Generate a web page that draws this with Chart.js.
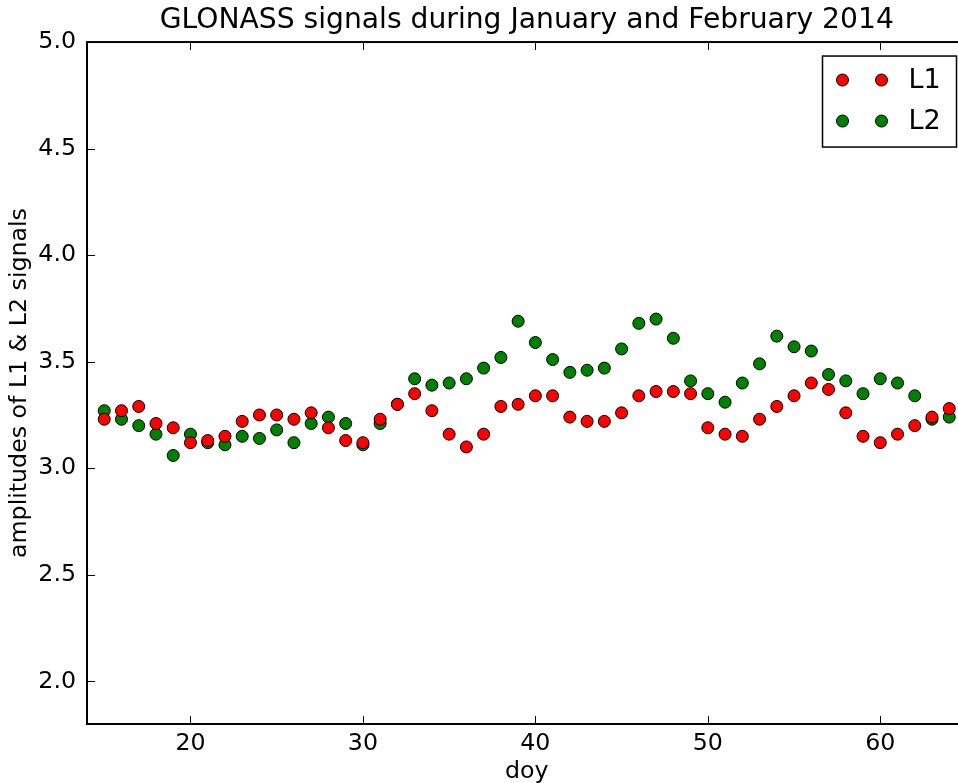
<!DOCTYPE html>
<html>
<head>
<meta charset="utf-8">
<script src="https://cdn.jsdelivr.net/npm/chart.js@4.4.1/dist/chart.umd.min.js"></script>
<style>
  html, body { margin: 0; padding: 0; background: #fff; overflow: hidden; }
  #wrap { width: 958px; height: 783px; overflow: hidden; position: relative; }
  canvas { display: block; }
</style>
</head>
<body>
<div id="wrap"><canvas id="c" width="1000" height="783"></canvas></div>
<script>
const TITLE = 'GLONASS signals during January and February 2014';
const X_LABEL = 'doy';
const Y_LABEL = 'amplitudes of L1 & L2 signals';
const SERIES_NAMES = ['L1', 'L2'];

const days = [15,16,17,18,19,20,21,22,23,24,25,26,27,28,29,30,31,32,33,34,35,36,37,38,39,40,
              41,42,43,44,45,46,47,48,49,50,51,52,53,54,55,56,57,58,59,60,61,62,63,64];

const l1 = [3.23,3.27,3.29,3.21,3.19,3.12,3.13,3.15,3.22,3.25,3.25,3.23,3.26,3.19,3.13,3.12,
            3.23,3.30,3.35,3.27,3.16,3.10,3.16,3.29,3.30,3.34,3.34,3.24,3.22,3.22,3.26,3.34,
            3.36,3.36,3.35,3.19,3.16,3.15,3.23,3.29,3.34,3.40,3.37,3.26,3.15,3.12,3.16,3.20,
            3.24,3.28];

const l2 = [3.27,3.23,3.20,3.16,3.06,3.16,3.12,3.11,3.15,3.14,3.18,3.12,3.21,3.24,3.21,3.11,
            3.21,3.30,3.42,3.39,3.40,3.42,3.47,3.52,3.69,3.59,3.51,3.45,3.46,3.47,3.56,3.68,
            3.70,3.61,3.41,3.35,3.31,3.40,3.49,3.62,3.57,3.55,3.44,3.41,3.35,3.42,3.40,3.34,
            3.23,3.24];

const xTicks = [20, 30, 40, 50, 60];
const yTicks = [2.0, 2.5, 3.0, 3.5, 4.0, 4.5, 5.0];
const xRange = [14, 65];
const yRange = [1.8, 5.0];

const FONT = 'DejaVu Sans';
const COLORS = ['#ff0000', '#008000'];

const toPts = (vals) => vals.map((v, i) => ({ x: days[i], y: v }));

const framePlugin = {
  id: 'frame',
  beforeDatasetsDraw(chart) {
    const { ctx, chartArea: a, scales } = chart;
    ctx.save();
    ctx.strokeStyle = '#000';
    ctx.lineWidth = 1;
    const tl = 8;
    scales.x.ticks.forEach(t => {
      const px = Math.round(scales.x.getPixelForValue(t.value)) + 0.5;
      ctx.beginPath();
      ctx.moveTo(px, a.bottom); ctx.lineTo(px, a.bottom - tl);
      ctx.moveTo(px, a.top); ctx.lineTo(px, a.top + tl);
      ctx.stroke();
    });
    scales.y.ticks.forEach(t => {
      const py = Math.round(scales.y.getPixelForValue(t.value)) + 0.5;
      ctx.beginPath();
      ctx.moveTo(a.left, py); ctx.lineTo(a.left + tl, py);
      ctx.moveTo(a.right, py); ctx.lineTo(a.right - tl, py);
      ctx.stroke();
    });
    ctx.lineWidth = 2;
    ctx.strokeRect(a.left, a.top, a.right - a.left, a.bottom - a.top);
    ctx.restore();
  },
  afterDraw(chart) {
    const { ctx, chartArea: a } = chart;
    const ds = chart.data.datasets;
    const bx = a.right - 144, by = a.top + 14, bw = 134, bh = 91;
    ctx.save();
    ctx.fillStyle = '#fff';
    ctx.fillRect(bx, by, bw, bh);
    ctx.strokeStyle = '#000';
    ctx.lineWidth = 1.5;
    ctx.strokeRect(bx, by, bw, bh);
    ds.forEach((d, i) => {
      const cy = by + 24 + i * 41;
      [bx + 20, bx + 59].forEach(cx => {
        ctx.beginPath();
        ctx.arc(cx, cy, 6, 0, Math.PI * 2);
        ctx.fillStyle = d.backgroundColor;
        ctx.fill();
        ctx.lineWidth = 1;
        ctx.strokeStyle = '#000';
        ctx.stroke();
      });
      ctx.fillStyle = '#000';
      ctx.font = '27px "' + FONT + '"';
      ctx.textBaseline = 'middle';
      ctx.textAlign = 'left';
      ctx.fillText(d.label, bx + 86, cy + 1);
    });
    ctx.restore();
  }
};

new Chart(document.getElementById('c'), {
  type: 'scatter',
  data: {
    datasets: [
      { label: SERIES_NAMES[0], data: toPts(l1), backgroundColor: COLORS[0], borderColor: '#000',
        borderWidth: 1, pointRadius: 6, pointHoverRadius: 6, showLine: false },
      { label: SERIES_NAMES[1], data: toPts(l2), backgroundColor: COLORS[1], borderColor: '#000',
        borderWidth: 1, pointRadius: 6, pointHoverRadius: 6, showLine: false }
    ]
  },
  options: {
    responsive: false,
    animation: false,
    devicePixelRatio: 1,
    layout: { padding: { left: 0, right: 33.5, top: 0, bottom: 0 } },
    plugins: {
      legend: { display: false },
      tooltip: { enabled: false },
      title: {
        display: true, text: TITLE, fullSize: false, color: '#000',
        font: { family: FONT, size: 28.2, weight: 'normal' },
        padding: { top: 4, bottom: 4.2 }
      }
    },
    scales: {
      x: {
        type: 'linear', min: xRange[0], max: xRange[1],
        grid: { display: false, drawTicks: false }, border: { display: false },
        afterBuildTicks: s => { s.ticks = xTicks.map(v => ({ value: v })); },
        afterFit: s => { s.height = 59; },
        ticks: { color: '#000', font: { family: FONT, size: 23.7 }, padding: 5.5, autoSkip: false, maxRotation: 0 },
        title: { display: true, text: X_LABEL, color: '#000', font: { family: FONT, size: 23.7 }, padding: { top: 0, bottom: -3 } }
      },
      y: {
        type: 'linear', min: yRange[0], max: yRange[1],
        grid: { display: false, drawTicks: false }, border: { display: false },
        afterBuildTicks: s => { s.ticks = yTicks.map(v => ({ value: v })); },
        afterFit: s => { s.width = 87; },
        ticks: { color: '#000', font: { family: FONT, size: 23.7 }, padding: 11, autoSkip: false,
                 callback: v => Number(v).toFixed(1) },
        title: { display: true, text: Y_LABEL, color: '#000', font: { family: FONT, size: 23.7 }, padding: { top: 5.8, bottom: 0 } }
      }
    }
  },
  plugins: [framePlugin]
});
</script>
</body>
</html>
